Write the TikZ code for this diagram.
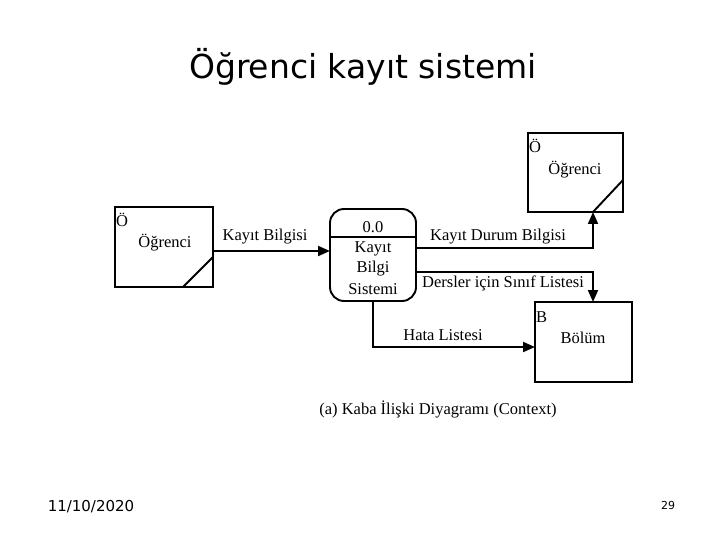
\documentclass[tikz,border=0pt]{standalone}
\usepackage{fontspec}
\setmainfont{Liberation Serif}
\newfontfamily\titlefont{DejaVu Sans}
\usetikzlibrary{arrows.meta}
\begin{document}
\begin{tikzpicture}[x=1pt,y=-1pt,
  ent/.style={draw,line width=1.9pt},
  flow/.style={draw,line width=1.9pt,-{Triangle[length=12pt,width=10pt]}},
  lbl/.style={font=\fontsize{16.5}{19}\selectfont,inner sep=0pt},
  every node/.style={inner sep=0pt}]
\useasboundingbox (0,0) rectangle (720,540);
% title
\node (title) at (363,67) {\titlefont\fontsize{33}{38}\selectfont Öğrenci kayıt sistemi};
% left entity
\draw[ent] (115,207) rectangle (213,287);
\coordinate (L) at (213,251);
\draw[ent] (183,287) -- (213,257);
\node[lbl,anchor=north west] (lO) at (116,213) {Ö};
\node[lbl] (lname) at (165,243) {Öğrenci};
% right top entity
\draw[ent] (528,133) rectangle (623,212);
\draw[ent] (593,212) -- (623,180);
\node[lbl,anchor=north west] (rO) at (529,139) {Ö};
\node[lbl] (rname) at (575,170) {Öğrenci};
\coordinate (RB) at (593,212);
% process
\draw[ent,rounded corners=14pt] (330,209) rectangle (416,301);
\draw[ent] (330,237) -- (416,237);
\node[lbl] (pid) at (373,227) {0.0};
\node[lbl] (p1) at (373,249) {Kayıt};
\node[lbl] (p2) at (373,269) {Bilgi};
\node[lbl] (p3) at (373,289) {Sistemi};
\coordinate (PL) at (330,251);
\coordinate (PR1) at (416,248);
\coordinate (PR2) at (416,272);
\coordinate (PB) at (373,301);
% bolum
\draw[ent] (535,302) rectangle (632,382);
\node[lbl,anchor=north west] (bB) at (536,311) {B};
\node[lbl] (bname) at (583,338) {Bölüm};
\coordinate (BT) at (593,302);
\coordinate (BL) at (535,347);
% flows
\draw[flow] (L) -- (PL);
\node[lbl] (f1) at (265,237) {Kayıt Bilgisi};
\draw[flow] (PR1) -| (RB);
\node[lbl] (f2) at (498,237) {Kayıt Durum Bilgisi};
\draw[flow] (PR2) -| (BT);
\node[lbl] (f3) at (503,283) {Dersler için Sınıf Listesi};
\draw[flow] (PB) |- (BL);
\node[lbl] (f4) at (443,335) {Hata Listesi};
% caption
\node[lbl] (cap) at (438,409) {(a) Kaba İlişki Diyagramı (Context)};
% footer
\node (date) at (91,507) {\titlefont\fontsize{15}{17}\selectfont 11/10/2020};
\node (page) at (668,505) {\titlefont\fontsize{11}{13}\selectfont 29};
\end{tikzpicture}
\end{document}
